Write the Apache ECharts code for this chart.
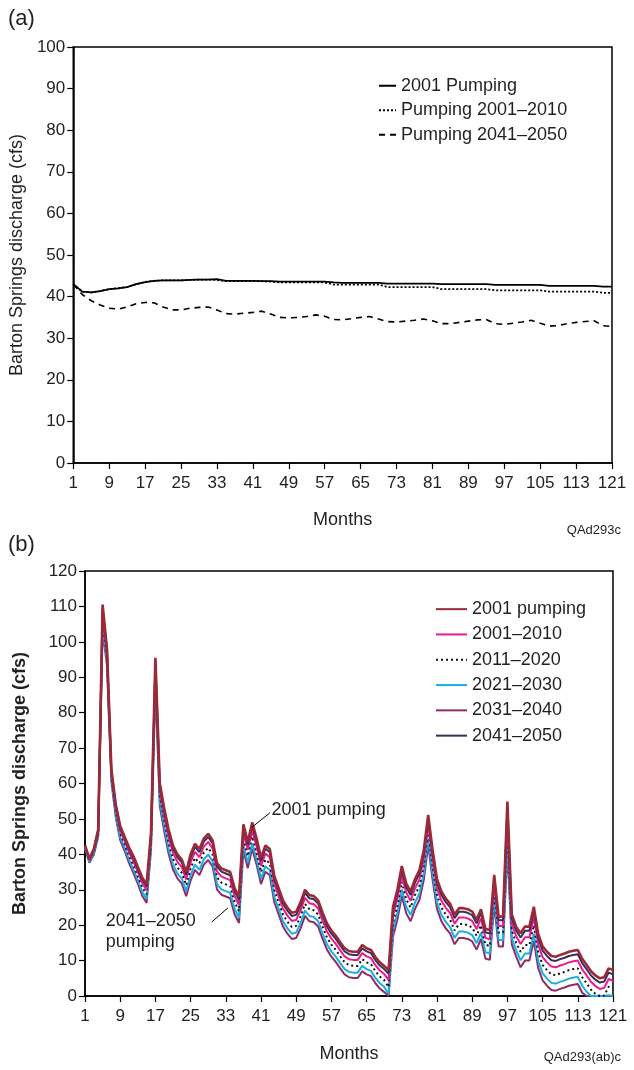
<!DOCTYPE html>
<html><head><meta charset="utf-8">
<script src="https://cdn.jsdelivr.net/npm/echarts@6/dist/echarts.min.js"></script>
<style>html,body{margin:0;padding:0;background:#fff}#c{width:634px;height:1070px}</style>
</head><body><div id="c"></div>
<script>
// ---------- Panel (a) data: sampled every 2 months ----------
const monthsA = [1,3,5,7,9,11,13,15,17,19,21,23,25,27,29,31,33,35,37,39,41,43,45,47,49,51,53,55,57,59,61,63,65,67,69,71,73,75,77,79,81,83,85,87,89,91,93,95,97,99,101,103,105,107,109,111,113,115,117,119,121];
const aPump2001 = [43,41.2,41.0,41.3,41.8,42.0,42.3,43.0,43.5,43.8,43.9,43.9,43.9,44.0,44.1,44.1,44.2,43.8,43.8,43.8,43.8,43.7,43.7,43.6,43.6,43.6,43.6,43.6,43.6,43.4,43.3,43.3,43.3,43.3,43.3,43.1,43.1,43.1,43.1,43.1,43.1,43.0,43.0,43.0,43.0,43.0,43.0,42.8,42.8,42.8,42.8,42.8,42.8,42.6,42.6,42.6,42.6,42.6,42.6,42.4,42.4];
const aPump2001_2010 = [43,41.2,41.0,41.3,41.8,42.0,42.3,43.0,43.5,43.8,43.9,43.9,43.9,44.0,44.1,44.1,44.0,43.7,43.7,43.7,43.7,43.7,43.6,43.4,43.4,43.4,43.4,43.4,43.4,42.9,42.9,42.9,42.9,42.9,42.9,42.3,42.3,42.3,42.3,42.3,42.3,41.8,41.8,41.8,41.8,41.8,41.8,41.5,41.5,41.5,41.5,41.5,41.5,41.2,41.2,41.2,41.2,41.2,41.2,40.9,40.9];
const aPump2041_2050 = [43,40.5,39.0,38.0,37.2,37.0,37.5,38.3,38.6,38.5,37.5,36.8,36.8,37.2,37.4,37.5,36.8,35.9,35.8,36.0,36.2,36.5,35.8,35.0,34.9,35.0,35.2,35.6,35.3,34.5,34.4,34.7,35.0,35.2,34.6,34.0,33.9,34.1,34.3,34.6,34.2,33.5,33.5,33.8,34.1,34.4,34.5,33.5,33.3,33.6,33.9,34.3,33.6,32.9,33.0,33.5,33.8,34.0,34.2,33.0,32.8];

// ---------- Panel (b) data: monthly ----------
const monthsB = Array.from({length:121}, (_, i) => i + 1);
const b2001 = [42.5,38.8,41.5,47,110.5,98,64,54,48,45, 42,39.5,36.5,33.5,31.5,46,95.5,60,53,47, 42.5,40,38.5,35,40,43,41.5,44.5,45.8,44, 37.5,36,35.5,35,30.5,28,48.5,43.5,49,44.5, 39,42.5,41.5,34,30.5,27,25,23.5,23.8,26.5, 30,28.5,28.2,27,23.5,20.5,18.5,17,15.2,13.5, 12.7,12.5,12.5,14.4,13.5,13,11,9.5,8.5,7.3, 25.2,30,36.7,31.8,29.5,33,35.5,41.2,51.1,41.2, 33,29.5,27.5,26,23,24.8,24.8,24.5,23.8,21.5, 24.5,19,18.6,34.2,22.4,22.4,54.9,23,19.5,17.7, 19.6,19.6,25.2,17.5,14,12.5,11.3,11.1,11.6,12, 12.5,12.8,13,10.5,8.8,7,5.8,5,5.3,7.8, 7.3];
const bNavy = [42.4,38.7,41.3,46.8,109.6,97.4,63.6,53.6,47.5,44.5, 41.5,38.9,35.9,32.9,30.9,45.4,94.5,59.2,52.2,46.2, 41.7,39.2,37.7,34.2,39.1,42.1,40.6,43.6,44.9,43.1, 36.6,35.1,34.6,34.1,29.6,27.1,47.6,42.6,48.1,43.6, 38.1,41.6,40.6,33.1,29.6,26.1,24.1,22.6,22.9,25.6, 29.1,27.6,27.3,26.1,22.6,19.6,17.6,16.1,14.3,12.6, 11.8,11.6,11.6,13.5,12.6,12.1,10.1,8.6,7.6,6.3, 24.2,29.0,35.7,30.8,28.5,32.0,34.5,40.2,50.1,40.2, 32.0,28.5,26.5,25.0,22.0,23.8,23.8,23.5,22.8,20.5, 23.5,18.0,17.6,33.2,21.4,21.4,53.2,22.0,18.5,16.5, 18.4,18.4,24.0,16.3,12.8,11.3,10.1,9.9,10.4,10.8, 11.3,11.6,11.8,9.3,7.6,5.8,4.6,3.8,4.1,6.6, 6.1];
const b2001_2010 = [42.3,38.4,41.0,46.4,108.3,96.5,62.9,52.9,46.8,43.8, 40.6,38.0,35.0,31.9,29.9,44.5,93.0,58.0,51.0,44.9, 40.4,37.9,36.4,32.9,37.7,40.7,39.2,42.2,43.5,41.7, 35.2,33.7,33.2,32.7,28.2,25.7,46.2,41.2,46.7,42.2, 36.7,40.2,39.2,31.7,28.2,24.7,22.7,21.2,21.5,24.2, 27.7,26.2,25.9,24.7,21.2,18.2,16.2,14.7,12.9,11.2, 10.4,10.2,10.2,12.1,11.2,10.7,8.7,7.2,6.2,4.5, 22.6,27.4,34.1,29.2,26.9,30.4,32.9,38.6,48.5,38.6, 30.4,26.9,24.9,23.4,20.4,22.2,22.2,21.9,21.2,18.9, 21.9,16.4,16.0,31.6,19.8,19.8,50.7,20.4,16.9,14.7, 16.6,16.6,22.2,14.5,11.0,9.5,8.3,8.1,8.6,9.0, 9.5,9.8,10.0,7.5,5.8,4.0,2.8,2.0,2.3,4.8, 4.3];
const b2011_2020 = [42.1,38.2,40.6,45.9,106.6,95.4,62.1,52.1,45.9,42.9, 39.6,36.9,33.9,30.7,28.7,43.4,91.2,56.6,49.6,43.3, 38.8,36.3,34.8,31.3,36.0,39.0,37.5,40.5,41.8,40.0, 33.5,32.0,31.5,31.0,26.5,24.0,44.5,39.5,45.0,40.5, 35.0,38.5,37.5,30.0,26.5,23.0,21.0,19.5,19.8,22.5, 26.0,24.5,24.2,23.0,19.5,16.5,14.5,13.0,11.2,9.5, 8.7,8.5,8.5,10.4,9.5,9.0,7.0,5.5,4.5,2.5, 20.7,25.5,32.2,27.3,25.0,28.5,31.0,36.7,46.6,36.7, 28.5,25.0,23.0,21.5,18.5,20.3,20.3,20.0,19.3,17.0, 20.0,14.5,14.1,29.7,17.9,17.9,47.6,18.5,15.0,12.5, 14.4,14.4,20.0,12.3,8.8,7.3,6.1,5.9,6.4,6.8, 7.3,7.6,7.8,5.3,3.6,1.8,0.6,0,0.1,2.6, 2.1];
const b2021_2030 = [41.9,37.9,40.2,45.4,104.8,94.2,61.2,51.2,44.9,41.9, 38.5,35.7,32.7,29.4,27.4,42.2,89.2,55.0,48.0,41.6, 37.1,34.6,33.1,29.6,34.1,37.1,35.6,38.6,39.9,38.1, 31.6,30.1,29.6,29.1,24.6,22.1,42.6,37.6,43.1,38.6, 33.1,36.6,35.6,28.1,24.6,21.1,19.1,17.6,17.9,20.6, 24.1,22.6,22.3,21.1,17.6,14.6,12.6,11.1,9.3,7.6, 6.8,6.6,6.6,8.5,7.6,7.1,5.1,3.6,2.6,0.5, 18.6,23.4,30.1,25.2,22.9,26.4,28.9,34.6,44.5,34.6, 26.4,22.9,20.9,19.4,16.4,18.2,18.2,17.9,17.2,14.9, 17.9,12.4,12.0,27.6,15.8,15.8,44.2,16.4,12.9,10.1, 12.0,12.0,17.6,9.9,6.4,4.9,3.7,3.5,4.0,4.4, 4.9,5.2,5.4,2.9,1.2,0,0,0,0,0.2, 0];
const b2031_2040 = [41.7,37.6,39.9,45.0,103.3,93.2,60.4,50.4,44.0,41.0, 37.6,34.7,31.7,28.3,26.3,41.2,87.5,53.6,46.6,40.2, 35.7,33.2,31.7,28.2,32.6,35.6,34.1,37.1,38.4,36.6, 30.1,28.6,28.1,27.6,23.1,20.6,41.1,36.1,41.6,37.1, 31.6,35.1,34.1,26.6,23.1,19.6,17.6,16.1,16.4,19.1, 22.6,21.1,20.8,19.6,16.1,13.1,11.1,9.6,7.8,6.1, 5.3,5.1,5.1,7.0,6.1,5.6,3.6,2.1,1.1,0, 16.8,21.6,28.3,23.4,21.1,24.6,27.1,32.8,42.7,32.8, 24.6,21.1,19.1,17.6,14.6,16.4,16.4,16.1,15.4,13.1, 16.1,10.6,10.2,25.8,14.0,14.0,41.3,14.6,11.1,8.1, 10.0,10.0,15.6,7.9,4.4,2.9,1.7,1.5,2.0,2.4, 2.9,3.2,3.4,0.9,0,0,0,0,0,0, 0];

const FONT = "'Liberation Sans', Arial, Helvetica, sans-serif";
const TXT = '#231f20';

function pairs(xs, ys){ return xs.map((x, i) => [x, ys[i]]); }

const chart = echarts.init(document.getElementById('c'), null, {renderer:'canvas'});

function xAxisCfg(gi, gap){
  return {
    gridIndex: gi, type:'value', min:1, max:121, interval:8,
    axisLine:{show:true, lineStyle:{color:'#000', width:1.5}},
    axisTick:{show:true, length:6, lineStyle:{color:'#000', width:1.2}},
    axisLabel:{color:TXT, fontSize:17, fontFamily:FONT, margin:12},
    splitLine:{show:false},
    name:'Months', nameLocation:'middle', nameGap:gap,
    nameTextStyle:{color:TXT, fontSize:18, fontFamily:FONT}
  };
}
function yAxisCfg(gi, max, gap, bold){
  return {
    gridIndex: gi, type:'value', min:0, max:max, interval:10,
    axisLine:{show:true, lineStyle:{color:'#000', width:1.5}},
    axisTick:{show:true, length:6, lineStyle:{color:'#000', width:1.2}},
    axisLabel:{color:TXT, fontSize:17, fontFamily:FONT, margin:8},
    splitLine:{show:false},
    name:'Barton Springs discharge (cfs)', nameLocation:'middle', nameGap:gap,
    nameTextStyle:{color:TXT, fontSize:18, fontFamily:FONT, fontWeight: bold ? 'bold' : 'normal'}
  };
}
function lineS(name, xi, data, color, width, type, z){
  return {
    name, type:'line', xAxisIndex:xi, yAxisIndex:xi, data, symbol:'none', showSymbol:false,
    lineStyle:{color, width, type}, itemStyle:{color}, z, animation:false
  };
}

const option = {
  animation:false,
  backgroundColor:'#fff',
  textStyle:{fontFamily:FONT},
  grid:[
    {left:70, top:47, width:542, height:416, show:true, borderColor:'#000', borderWidth:1.5, containLabel:false},
    {left:85, top:571, width:528, height:425, show:true, borderColor:'#000', borderWidth:1.5, containLabel:false}
  ],
  xAxis:[xAxisCfg(0, 48), xAxisCfg(1, 49)],
  yAxis:[yAxisCfg(0, 100, 36, false), yAxisCfg(1, 120, 56, true)],
  legend:[
    {orient:'vertical', left:373, top:71, itemWidth:17, itemHeight:10, itemGap:5,
     itemStyle:{opacity:0},
     textStyle:{color:TXT, fontSize:18, fontFamily:FONT, lineHeight:19.5},
     data:['2001 Pumping','Pumping 2001–2010','Pumping 2041–2050']},
    {orient:'vertical', left:430, top:594, itemWidth:31, itemHeight:10, itemGap:5,
     itemStyle:{opacity:0},
     textStyle:{color:TXT, fontSize:18, fontFamily:FONT, lineHeight:20.3},
     data:['2001 pumping','2001–2010','2011–2020','2021–2030','2031–2040','2041–2050']}
  ],
  series:[
    lineS('2001 Pumping', 0, pairs(monthsA, aPump2001), '#000', 1.8, 'solid', 5),
    lineS('Pumping 2001–2010', 0, pairs(monthsA, aPump2001_2010), '#000', 1.8, [2,2], 4),
    lineS('Pumping 2041–2050', 0, pairs(monthsA, aPump2041_2050), '#000', 1.6, [6,5], 3),
    lineS('2031–2040', 1, pairs(monthsB, b2031_2040), '#8e2c68', 2, 'solid', 2),
    lineS('2021–2030', 1, pairs(monthsB, b2021_2030), '#19afe6', 2, 'solid', 3),
    lineS('2011–2020', 1, pairs(monthsB, b2011_2020), '#111', 2, [2,3], 4),
    lineS('2001–2010', 1, pairs(monthsB, b2001_2010), '#ec1a8a', 2, 'solid', 5),
    lineS('2041–2050', 1, pairs(monthsB, bNavy), '#34305a', 2, 'solid', 6),
    lineS('2001 pumping', 1, pairs(monthsB, b2001), '#9b2a36', 2.6, 'solid', 7)
  ]
};
chart.setOption(option);

function px(gi, m, v){ return chart.convertToPixel({gridIndex:gi}, [m, v]); }
const p1a = px(1, 43, 51.7), p1b = px(1, 39, 47.7);
const t1 = px(1, 43.4, 52.5);
const p2a = px(1, 29.8, 20.9), p2b = px(1, 33.5, 24.9);
const t2 = px(1, 5.7, 24.0);

chart.setOption({
  graphic:[
    {type:'text', left:8, top:8, style:{text:'(a)', fontSize:22, fontFamily:FONT, fill:TXT}},
    {type:'text', left:8, top:534, style:{text:'(b)', fontSize:22, fontFamily:FONT, fill:TXT}},
    {type:'text', right:13, top:524, style:{text:'QAd293c', fontSize:13, fontFamily:FONT, fill:TXT}},
    {type:'text', right:13, top:1051, style:{text:'QAd293(ab)c', fontSize:13, fontFamily:FONT, fill:TXT}},
    {type:'line', shape:{x1:p1a[0], y1:p1a[1], x2:p1b[0], y2:p1b[1]}, style:{stroke:'#000', lineWidth:1}, z:20},
    {type:'text', x:t1[0], y:t1[1], style:{text:'2001 pumping', fontSize:18, fontFamily:FONT, fill:TXT, verticalAlign:'middle'}, z:20},
    {type:'line', shape:{x1:p2a[0], y1:p2a[1], x2:p2b[0], y2:p2b[1]}, style:{stroke:'#000', lineWidth:1}, z:20},
    {type:'text', x:t2[0], y:t2[1], style:{text:'2041–2050\npumping', fontSize:18, lineHeight:21, fontFamily:FONT, fill:TXT, verticalAlign:'top'}, z:20}
  ]
});
</script>
</body></html>
